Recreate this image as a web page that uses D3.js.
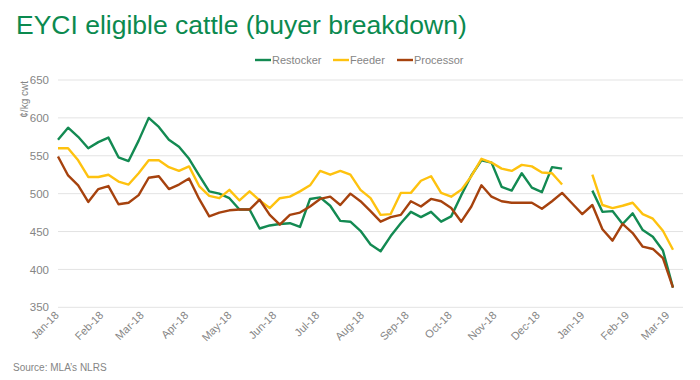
<!DOCTYPE html>
<html>
<head>
<meta charset="utf-8">
<script src="https://cdn.jsdelivr.net/npm/d3@7"></script>
<style>
  html, body { margin: 0; padding: 0; background: #fff; }
  svg { display: block; font-family: "Liberation Sans", Arial, sans-serif; }
</style>
</head>
<body>
<svg id="chart" width="700" height="380"></svg>
<script>
// ---- data (weekly series, Jan 2018 – Mar 2019) ----
const firstWeek = "2018-01-01";
const restocker = [571, 587, 575, 560, 568, 574, 548, 543, 570, 600,
  588, 571, 562, 546, 524, 503, 500, 494, 479, 479,
  454, 458, 460, 461, 456, 493, 495, 484, 464, 463,
  451, 433, 424, 444, 461, 476, 469, 476, 463, 470,
  498, 524, 544, 541, 509, 504, 527, 508, 502, 535,
  533, null, null, 504, 476, 477, 460, 474, 452, 443,
  425, 376];
const feeder = [560, 560, 544, 522, 522, 525, 516, 512, 527, 544,
  544, 535, 530, 536, 510, 497, 494, 505, 491, 503,
  491, 481, 494, 496, 503, 511, 530, 525, 530, 525,
  505, 494, 472, 473, 501, 501, 517, 523, 501, 496,
  505, 523, 546, 541, 533, 530, 538, 536, 528, 527,
  512, null, null, 525, 485, 481, 484, 488, 473, 467,
  451, 426];
const processor = [549, 524, 511, 489, 506, 510, 486, 488, 498, 521,
  523, 506, 512, 520, 493, 470, 475, 478, 479, 479,
  492, 472, 459, 472, 475, 483, 493, 496, 485, 500,
  490, 477, 463, 469, 472, 490, 483, 493, 490, 481,
  463, 483, 511, 496, 490, 488, 488, 488, 480, 490,
  501, 487, 473, 485, 453, 438, 460, 448, 430, 427,
  415, 376];
const seriesNames = ["Restocker", "Feeder", "Processor"];
const seriesColors = ["#138a52", "#fec20f", "#a6420e"];
const yTicks = [350, 400, 450, 500, 550, 600, 650];
const monthStarts = ["2018-01-01", "2018-02-01", "2018-03-01", "2018-04-01", "2018-05-01",
  "2018-06-01", "2018-07-01", "2018-08-01", "2018-09-01", "2018-10-01", "2018-11-01",
  "2018-12-01", "2019-01-01", "2019-02-01", "2019-03-01"];
const monthLabels = ["Jan-18", "Feb-18", "Mar-18", "Apr-18", "May-18", "Jun-18", "Jul-18",
  "Aug-18", "Sep-18", "Oct-18", "Nov-18", "Dec-18", "Jan-19", "Feb-19", "Mar-19"];

// ---- chart ----
const parse = d3.timeParse("%Y-%m-%d");
const start = parse(firstWeek);
const dates = restocker.map((_, i) => d3.timeWeek.offset(start, i));
const svg = d3.select("#chart");
const textGrey = "#858585";

const x = d3.scaleTime()
  .domain([start, dates[dates.length - 1]])
  .range([58, 673]);
const y = d3.scaleLinear().domain([350, 650]).range([307.3, 80]);
const plotLeft = 58, plotRight = 683;

// gridlines
svg.append("g").selectAll("line").data(yTicks).join("line")
  .attr("x1", plotLeft).attr("x2", plotRight)
  .attr("y1", d => y(d)).attr("y2", d => y(d))
  .attr("stroke", "#e3e3e3").attr("stroke-width", 1);

// y axis labels
const yAxis = d3.axisLeft(y).tickValues(yTicks).tickSize(0).tickPadding(0);
const yg = svg.append("g").attr("transform", "translate(49,0)").call(yAxis);
yg.select(".domain").remove();
yg.selectAll("text").attr("fill", textGrey).attr("font-size", 11.5)
  .attr("font-family", "'Liberation Sans', Arial, sans-serif");

// x axis labels (rotated)
const xAxis = d3.axisBottom(x).tickValues(monthStarts.map(parse))
  .tickFormat((d, i) => monthLabels[i]).tickSize(0).tickPadding(0);
const xg = svg.append("g").attr("transform", "translate(1,316)").call(xAxis);
xg.select(".domain").remove();
xg.selectAll("text")
  .attr("fill", textGrey).attr("font-size", 11)
  .attr("font-family", "'Liberation Sans', Arial, sans-serif")
  .attr("dy", 0).attr("y", 0)
  .attr("text-anchor", "end")
  .attr("transform", "rotate(-45)");

// y axis title
svg.append("text")
  .attr("transform", "translate(28,81) rotate(-90)")
  .attr("text-anchor", "end")
  .attr("fill", textGrey).attr("font-size", 10)
  .text("¢/kg cwt");

// lines
const allSeries = [restocker, feeder, processor];
const line = d3.line()
  .defined(d => d.v !== null)
  .x(d => x(d.date)).y(d => y(d.v));
allSeries.forEach((s, k) => {
  svg.append("path")
    .datum(s.map((v, i) => ({ date: dates[i], v })))
    .attr("fill", "none")
    .attr("stroke", seriesColors[k])
    .attr("stroke-width", 2.4)
    .attr("stroke-linejoin", "round")
    .attr("d", line);
});

// title
svg.append("text")
  .attr("x", 16).attr("y", 34)
  .attr("fill", "#0b8a4f").attr("font-size", 26.5)
  .text("EYCI eligible cattle (buyer breakdown)");

// legend
const legendX = [255, 333, 397];
const lg = svg.append("g");
seriesNames.forEach((n, k) => {
  lg.append("line")
    .attr("x1", legendX[k]).attr("x2", legendX[k] + 16)
    .attr("y1", 60).attr("y2", 60)
    .attr("stroke", seriesColors[k]).attr("stroke-width", 2.4);
  lg.append("text")
    .attr("x", legendX[k] + 17).attr("y", 63.8)
    .attr("fill", textGrey).attr("font-size", 11)
    .text(n);
});

// source
svg.append("text")
  .attr("x", 13).attr("y", 371)
  .attr("fill", textGrey).attr("font-size", 10)
  .text("Source: MLA’s NLRS");
</script>
</body>
</html>
